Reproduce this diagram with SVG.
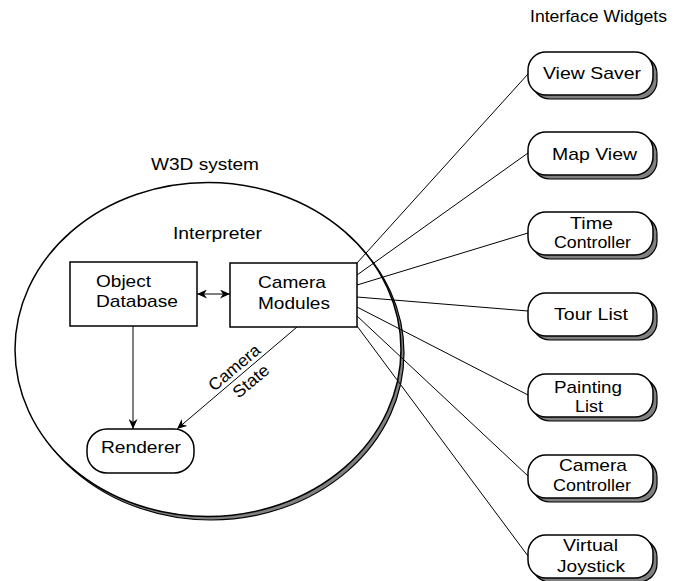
<svg xmlns="http://www.w3.org/2000/svg" width="677" height="581" viewBox="0 0 677 581">
  <defs>
    <marker id="arrow" viewBox="0 0 10 9" refX="10" refY="4.5" markerWidth="10" markerHeight="9" markerUnits="userSpaceOnUse" orient="auto-start-reverse">
      <path d="M0,0 L10,4.5 L0,9 L3,4.5 z" fill="#000"/>
    </marker>
  </defs>
  <style>
    text { font-family: "Liberation Sans", Arial, Helvetica, sans-serif; font-size: 17px; fill: #000; }
    .mid { text-anchor: middle; }
    .box { fill: #fff; stroke: #000; stroke-width: 1.5; }
    .shadow { fill: #808080; stroke: #000; stroke-width: 1.2; }
    .edge { fill: none; stroke: #000; stroke-width: 1; }
  </style>

  <rect width="677" height="581" fill="#fff"/>

  <!-- system boundary -->
  <g id="w3d-system">
    <ellipse class="shadow" cx="211" cy="353" rx="193" ry="167"/>
    <ellipse class="box" cx="208" cy="349.5" rx="193" ry="167"/>
    <text x="151" y="170" textLength="108" lengthAdjust="spacingAndGlyphs">W3D system</text>
    <text x="173" y="239" textLength="89" lengthAdjust="spacingAndGlyphs">Interpreter</text>
  </g>

  <text x="530" y="22" textLength="137" lengthAdjust="spacingAndGlyphs">Interface Widgets</text>

  <!-- connectors -->
  <g id="connectors">
    <line class="edge" x1="197" y1="294" x2="230" y2="294" marker-start="url(#arrow)" marker-end="url(#arrow)"/>
    <line class="edge" x1="133" y1="326" x2="133" y2="429" marker-end="url(#arrow)"/>
    <line class="edge" x1="297" y1="327" x2="177" y2="429" marker-end="url(#arrow)"/>
    <line class="edge" x1="357" y1="263" x2="528" y2="74"/>
    <line class="edge" x1="357" y1="275" x2="528" y2="153"/>
    <line class="edge" x1="357" y1="285" x2="528" y2="233"/>
    <line class="edge" x1="357" y1="297" x2="528" y2="311"/>
    <line class="edge" x1="357" y1="307" x2="528" y2="395"/>
    <line class="edge" x1="357" y1="316" x2="528" y2="476"/>
    <line class="edge" x1="357" y1="326" x2="528" y2="556"/>
    <g transform="translate(238,372) rotate(-40)">
      <text class="mid" x="0" y="0" textLength="62" lengthAdjust="spacingAndGlyphs">Camera</text>
      <text class="mid" x="4" y="21" textLength="42" lengthAdjust="spacingAndGlyphs">State</text>
    </g>
  </g>

  <!-- interpreter components -->
  <g id="object-database">
    <rect class="box" x="70" y="262" width="127" height="64"/>
    <text x="96" y="287" textLength="55" lengthAdjust="spacingAndGlyphs">Object</text>
    <text x="96" y="307" textLength="82" lengthAdjust="spacingAndGlyphs">Database</text>
  </g>
  <g id="camera-modules">
    <rect class="box" x="230" y="263" width="127" height="64"/>
    <text x="258" y="288" textLength="68" lengthAdjust="spacingAndGlyphs">Camera</text>
    <text x="258" y="309" textLength="72" lengthAdjust="spacingAndGlyphs">Modules</text>
  </g>
  <g id="renderer">
    <rect class="box" x="87" y="429" width="107" height="44" rx="20"/>
    <text x="101" y="453" textLength="80" lengthAdjust="spacingAndGlyphs">Renderer</text>
  </g>

  <!-- interface widgets -->
  <g id="view-saver">
    <rect class="shadow" x="532" y="56" width="125" height="43" rx="18"/>
    <rect class="box" x="528" y="52" width="125" height="43" rx="18"/>
    <text x="543" y="79" textLength="98" lengthAdjust="spacingAndGlyphs">View Saver</text>
  </g>
  <g id="map-view">
    <rect class="shadow" x="532" y="136" width="125" height="43" rx="18"/>
    <rect class="box" x="528" y="132" width="125" height="43" rx="18"/>
    <text x="552" y="160" textLength="85" lengthAdjust="spacingAndGlyphs">Map View</text>
  </g>
  <g id="time-controller">
    <rect class="shadow" x="532" y="216" width="125" height="43" rx="18"/>
    <rect class="box" x="528" y="212" width="125" height="43" rx="18"/>
    <text x="570" y="229" textLength="43" lengthAdjust="spacingAndGlyphs">Time</text>
    <text x="554" y="248" textLength="77" lengthAdjust="spacingAndGlyphs">Controller</text>
  </g>
  <g id="tour-list">
    <rect class="shadow" x="532" y="297" width="125" height="43" rx="18"/>
    <rect class="box" x="528" y="293" width="125" height="43" rx="18"/>
    <text x="554" y="320" textLength="74" lengthAdjust="spacingAndGlyphs">Tour List</text>
  </g>
  <g id="painting-list">
    <rect class="shadow" x="532" y="378" width="125" height="43" rx="18"/>
    <rect class="box" x="528" y="374" width="125" height="43" rx="18"/>
    <text x="554" y="393" textLength="68" lengthAdjust="spacingAndGlyphs">Painting</text>
    <text x="575" y="412" textLength="28" lengthAdjust="spacingAndGlyphs">List</text>
  </g>
  <g id="camera-controller">
    <rect class="shadow" x="532" y="459" width="125" height="43" rx="18"/>
    <rect class="box" x="528" y="455" width="125" height="43" rx="18"/>
    <text x="559" y="471" textLength="68" lengthAdjust="spacingAndGlyphs">Camera</text>
    <text x="553" y="491" textLength="78" lengthAdjust="spacingAndGlyphs">Controller</text>
  </g>
  <g id="virtual-joystick">
    <rect class="shadow" x="532" y="539" width="125" height="43" rx="18"/>
    <rect class="box" x="528" y="535" width="125" height="43" rx="18"/>
    <text x="563" y="551" textLength="55" lengthAdjust="spacingAndGlyphs">Virtual</text>
    <text x="557" y="572" textLength="68" lengthAdjust="spacingAndGlyphs">Joystick</text>
  </g>
</svg>
